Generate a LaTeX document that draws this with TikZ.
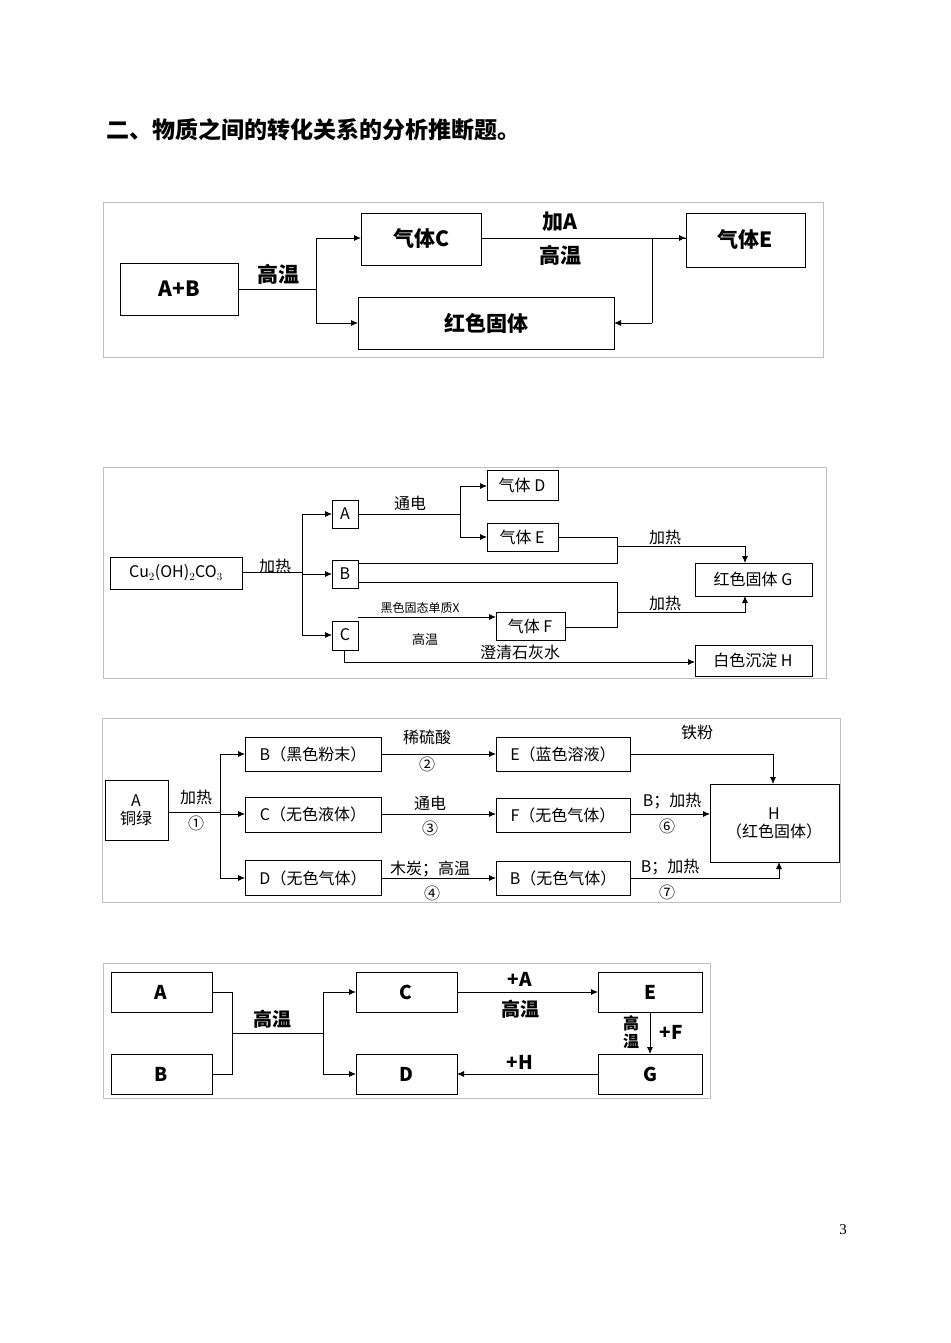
\documentclass[tikz,border=0pt]{standalone}
\usepackage{fontspec}
\setmainfont{Liberation Serif}
\newfontfamily\cjk{Noto Sans CJK SC}
\usetikzlibrary{arrows.meta}
\begin{document}
\begin{tikzpicture}[x=1pt,y=-1pt,
  box/.style={draw,thick,rectangle,inner sep=0pt},
  frame/.style={draw=black!25,line width=0.8pt},
  arr/.style={thick,-{Latex[length=7pt,width=6pt]}},
  ln/.style={thick},
  lbl/.style={font=\cjk,inner sep=1pt}]
\useasboundingbox (0,0) rectangle (950,1343);
% title
\node[font=\cjk\bfseries\fontsize{23}{25}\selectfont,anchor=west] (title) at (103,130) {二、物质之间的转化关系的分析推断题。};
\node[font=\fontsize{15}{17}\selectfont] (page) at (843,1230) {3};

% ---- diagram 1
\tikzset{d1/.style={lbl,font=\cjk\bfseries\fontsize{21}{23}\selectfont}}
\draw[frame] (103,202) rectangle (823,357);
\draw[box] (120,263) rectangle (238,315); \node[d1] (ab) at (179,289) {A+B};
\draw[box] (361,213) rectangle (481,265); \node[d1] (gc) at (421,239) {气体C};
\draw[box] (358,297) rectangle (614,349); \node[d1] (red) at (486,323) {红色固体};
\draw[box] (686,213) rectangle (805,267); \node[d1] (ge) at (745,240) {气体E};
\draw[ln] (238,289) -- (316,289);
\node[d1] (t1) at (278,274) {高温};
\draw[ln] (316,238) -- (316,323);
\draw[arr] (316,238) -- (361,238);
\draw[arr] (316,323) -- (358,323);
\draw[arr] (481,238) -- (686,238);
\node[d1] (t2) at (560,222) {加A};
\node[d1] (t3) at (560,255) {高温};
\draw[ln] (686,238) -- (652,238) -- (652,323);
\draw[arr] (652,323) -- (614,323);

% ---- diagram 2
\tikzset{d2/.style={lbl,font=\cjk\fontsize{16}{18}\selectfont}}
\draw[frame] (103,467) rectangle (826,678);
\draw[box] (110,557) rectangle (242,589); \node[d2] (cu) at (176,573) {Cu$_2$(OH)$_2$CO$_3$};
\draw[box] (332,500) rectangle (358,528); \node[d2] (a2) at (345,514) {A};
\draw[box] (332,560) rectangle (358,588); \node[d2] (b2) at (345,574) {B};
\draw[box] (332,621) rectangle (358,650); \node[d2] (c2) at (345,635) {C};
\draw[box] (487,470) rectangle (558,500); \node[d2] (gd) at (522,485) {气体 D};
\draw[box] (487,523) rectangle (558,551); \node[d2] (ge2) at (522,537) {气体 E};
\draw[box] (496,612) rectangle (565,640); \node[d2] (gf) at (530,626) {气体 F};
\draw[box] (695,563) rectangle (812,596); \node[d2] (gg) at (753,579) {红色固体 G};
\draw[box] (695,645) rectangle (812,676); \node[d2] (gh) at (753,660) {白色沉淀 H};
\draw[ln] (242,572) -- (302,572); \node[d2] (h1) at (275,566) {加热};
\draw[ln] (302,514) -- (302,635);
\draw[arr] (302,514) -- (332,514);
\draw[arr] (302,574) -- (332,574);
\draw[arr] (302,635) -- (332,635);
\draw[ln] (358,514) -- (460,514); \node[d2] (t4) at (410,503) {通电};
\draw[ln] (460,486) -- (460,537);
\draw[arr] (460,486) -- (487,486);
\draw[arr] (460,537) -- (487,537);
\draw[ln] (558,537) -- (617,537) -- (617,563) -- (358,563);
\draw[arr] (617,546) -- (745,546) -- (745,563); \node[d2] (h2) at (665,537) {加热};
\draw[ln] (358,582) -- (617,582) -- (617,627) -- (565,627);
\draw[arr] (617,612) -- (745,612) -- (745,596); \node[d2] (h3) at (665,603) {加热};
\draw[arr] (358,617) -- (496,617);
\node[lbl,font=\cjk\fontsize{12}{14}\selectfont] (x) at (420,608) {黑色固态单质X};
\node[lbl,font=\cjk\fontsize{13}{15}\selectfont] (t5) at (425,640) {高温};
\draw[arr] (344,650) -- (344,662) -- (695,662);
\node[d2] (lw) at (520,652) {澄清石灰水};

% ---- diagram 3
\tikzset{d3/.style={lbl,font=\cjk\fontsize{16}{18}\selectfont}}
\draw[frame] (102,718) rectangle (840,902);
\draw[box] (105,780) rectangle (168,840); \node[d3,align=center] (a3) at (136,810) {A\\铜绿};
\draw[box] (245,737) rectangle (381,771); \node[d3] (b3) at (313,754) {B（黑色粉末）};
\draw[box] (245,797) rectangle (381,832); \node[d3] (c3) at (313,814) {C（无色液体）};
\draw[box] (245,860) rectangle (381,895); \node[d3] (d3) at (313,878) {D（无色气体）};
\draw[box] (496,737) rectangle (630,771); \node[d3] (e3) at (563,754) {E（蓝色溶液）};
\draw[box] (496,798) rectangle (630,832); \node[d3] (f3) at (563,815) {F（无色气体）};
\draw[box] (496,861) rectangle (630,895); \node[d3] (g3) at (563,878) {B（无色气体）};
\draw[box] (710,784) rectangle (839,862); \node[d3,align=center] (h3b) at (774,823) {H\\（红色固体）};
\draw[ln] (168,812) -- (220,812);
\node[d3] (s1a) at (196,797) {加热}; \node[d3] (s1b) at (196,823) {①};
\draw[ln] (220,754) -- (220,878);
\draw[arr] (220,754) -- (245,754);
\draw[arr] (220,814) -- (245,814);
\draw[arr] (220,878) -- (245,878);
\draw[arr] (381,754) -- (496,754);
\node[d3] (s2a) at (427,737) {稀硫酸}; \node[d3] (s2b) at (427,764) {②};
\draw[arr] (381,814) -- (496,814);
\node[d3] (s3a) at (430,803) {通电}; \node[d3] (s3b) at (430,828) {③};
\draw[arr] (381,878) -- (496,878);
\node[d3] (s4a) at (430,869) {木炭；高温}; \node[d3] (s4b) at (432,893) {④};
\draw[arr] (630,754) -- (773,754) -- (773,784); \node[d3] (s5) at (697,732) {铁粉};
\draw[arr] (630,814) -- (710,814);
\node[d3] (s6a) at (672,801) {B；加热}; \node[d3] (s6b) at (667,826) {⑥};
\draw[arr] (630,878) -- (779,878) -- (779,862);
\node[d3] (s7a) at (670,867) {B；加热}; \node[d3] (s7b) at (667,892) {⑦};

% ---- diagram 4
\tikzset{d4/.style={lbl,font=\cjk\bfseries\fontsize{19}{21}\selectfont}}
\draw[frame] (103,963) rectangle (710,1098);
\draw[box] (111,972) rectangle (212,1012); \node[d4] (a4) at (161,992) {A};
\draw[box] (111,1054) rectangle (212,1094); \node[d4] (b4) at (161,1074) {B};
\draw[box] (356,972) rectangle (457,1012); \node[d4] (c4) at (406,992) {C};
\draw[box] (356,1054) rectangle (457,1094); \node[d4] (d4) at (406,1074) {D};
\draw[box] (598,972) rectangle (702,1012); \node[d4] (e4) at (650,992) {E};
\draw[box] (598,1054) rectangle (702,1094); \node[d4] (g4) at (650,1074) {G};
\draw[ln] (212,992) -- (232,992) -- (232,1074) -- (212,1074);
\draw[ln] (232,1033) -- (323,1033); \node[d4] (t6) at (272,1019) {高温};
\draw[ln] (323,992) -- (323,1074);
\draw[arr] (323,992) -- (356,992);
\draw[arr] (323,1074) -- (356,1074);
\draw[arr] (457,992) -- (598,992);
\node[d4] (t7) at (520,979) {+A}; \node[d4] (t8) at (520,1009) {高温};
\draw[arr] (650,1012) -- (650,1054);
\node[d4,align=center,font=\cjk\bfseries\fontsize{16}{18}\selectfont] (t9) at (631,1032) {高\\温};
\node[d4] (t10) at (671,1032) {+F};
\draw[arr] (598,1074) -- (457,1074); \node[d4] (t11) at (520,1062) {+H};
\end{tikzpicture}
\end{document}
